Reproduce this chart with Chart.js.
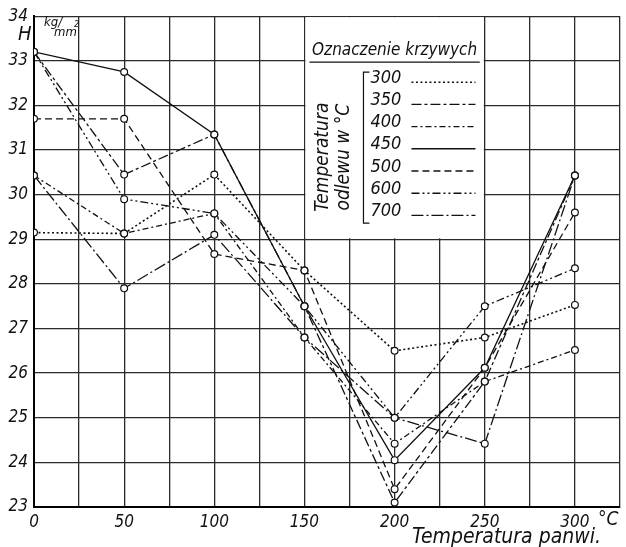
<!DOCTYPE html>
<html>
<head>
<meta charset="utf-8">
<script src="https://cdn.jsdelivr.net/npm/chart.js@4.4.0/dist/chart.umd.min.js"></script>
<style>
    html, body { margin: 0; padding: 0; background: #fff; }
</style>
</head>
<body>
<canvas id="hardnessChart" width="626" height="547"></canvas>
<script>
// Pan temperature (x axis, °C)
const panTemps = [0, 50, 100, 150, 200, 250, 300];
// Casting temperature for each curve (legend)
const castTemps = ['300', '350', '400', '450', '500', '600', '700'];

// Hardness H, kg/mm², one list per casting temperature
const h300 = [29.15, 29.13, 30.45, 28.3, 26.5, 26.8, 27.53];
const h350 = [33.2, 30.45, 31.35, 27.5, 23.1, 25.81, 30.43];
const h400 = [30.43, 29.13, 29.58, 26.8, 24.42, 25.81, 26.52];
const h450 = [33.2, 32.75, 31.35, 27.5, 24.05, 26.12, 30.43];
const h500 = [31.7, 31.7, 28.67, 28.3, 23.4, 26.12, 29.6];
const h600 = [33.2, 29.9, 29.58, 27.5, 25.0, 27.5, 28.35];
const h700 = [30.43, 27.9, 29.1, 26.8, 25.0, 24.42, 30.43];

const seriesValues = [h300, h350, h400, h450, h500, h600, h700];

// line pattern per curve, as in the printed legend
const dashes = [
    [2, 2.5],
    [10, 3, 3, 3],
    [6, 3, 2, 3],
    [],
    [7, 4],
    [8, 3, 2, 3, 2, 3],
    [12, 3, 2, 3]
];

const FONT = "'Liberation Sans Narrow', 'DejaVu Sans Condensed', sans-serif";
const INK = '#111';

// ---- legend box + free labels drawn on the canvas ----
const annotations = {
    id: 'annotations',
    beforeDatasetsDraw(chart) {
        const { ctx, scales: { x, y } } = chart;
        const l = x.getPixelForValue(150) + 1, r = x.getPixelForValue(250) - 1;
        const t = y.getPixelForValue(34) + 1, b = y.getPixelForValue(29) - 1;
        ctx.save();
        ctx.fillStyle = '#fff';
        ctx.fillRect(l, t, r - l, b - t);

        ctx.fillStyle = INK;
        ctx.strokeStyle = INK;
        ctx.font = `italic 17px ${FONT}`;
        ctx.textAlign = 'center';
        ctx.textBaseline = 'middle';
        ctx.fillText('Oznaczenie krzywych', (l + r) / 2, t + 33);
        ctx.lineWidth = 1.2;
        ctx.beginPath();
        ctx.moveTo(l + 4, t + 45);
        ctx.lineTo(r - 4, t + 45);
        ctx.stroke();

        // rotated side label
        ctx.save();
        ctx.translate(l + 18, t + 140);
        ctx.rotate(-Math.PI / 2);
        ctx.font = `italic 19px ${FONT}`;
        ctx.fillText('Temperatura', 0, 0);
        ctx.fillText('odlewu w °C', 0, 21);
        ctx.restore();

        // bracket
        ctx.lineWidth = 1.2;
        ctx.beginPath();
        ctx.moveTo(l + 64, t + 55);
        ctx.lineTo(l + 58, t + 55);
        ctx.lineTo(l + 58, t + 206);
        ctx.lineTo(l + 64, t + 206);
        ctx.stroke();

        ctx.font = `italic 18px ${FONT}`;
        ctx.textAlign = 'left';
        castTemps.forEach((label, i) => {
            const yy = t + 61 + i * 22.2;
            ctx.fillText(label, l + 65, yy);
            ctx.save();
            ctx.setLineDash(dashes[i]);
            ctx.lineWidth = i === 0 ? 1.6 : 1.4;
            ctx.beginPath();
            ctx.moveTo(l + 106, yy + 4);
            ctx.lineTo(l + 170, yy + 4);
            ctx.stroke();
            ctx.restore();
        });

        // axis captions
        ctx.font = `italic 20px ${FONT}`;
        ctx.textAlign = 'left';
        ctx.fillText('H', 18, 35);
        ctx.font = `italic 13px ${FONT}`;
        ctx.fillText('kg/', 44, 23);
        ctx.fillText('mm', 54, 33);
        ctx.font = `italic 9px ${FONT}`;
        ctx.fillText('2', 74, 25);

        ctx.font = `italic 19px ${FONT}`;
        ctx.fillText('°C', 598, 520);
        ctx.font = `italic 21px ${FONT}`;
        ctx.fillText('Temperatura panwi.', 412, 538);
        ctx.restore();
    }
};

function buildDatasets() {
    return seriesValues.map((vals, i) => ({
        label: castTemps[i],
        data: panTemps.map((t, j) => ({ x: t, y: vals[j] })),
        borderColor: INK,
        borderWidth: i === 0 ? 1.6 : 1.3,
        borderDash: dashes[i],
        pointRadius: 3.4,
        pointBackgroundColor: '#fff',
        pointBorderColor: INK,
        pointBorderWidth: 1.2,
        tension: 0,
        fill: false
    }));
}

new Chart(document.getElementById('hardnessChart'), {
    type: 'line',
    data: { datasets: buildDatasets() },
    plugins: [annotations],
    options: {
        responsive: false,
        animation: false,
        devicePixelRatio: 1,
        layout: { padding: { top: 14, right: 6, left: 0, bottom: 0 } },
        plugins: {
            legend: { display: false },
            tooltip: { enabled: false }
        },
        scales: {
            x: {
                type: 'linear',
                min: 0,
                max: 325,
                afterFit: s => { s.height = 40; },
                ticks: {
                    stepSize: 25,
                    autoSkip: false,
                    maxRotation: 0,
                    padding: 5,
                    color: INK,
                    font: { family: FONT, size: 17, style: 'italic' },
                    callback: v => (v % 50 === 0 && v <= 300) ? String(v) : ''
                },
                grid: { color: '#2a2a2a', lineWidth: 1.3, drawTicks: false },
                border: { color: '#000', width: 2 }
            },
            y: {
                min: 23,
                max: 34,
                afterFit: s => { s.width = 34; },
                ticks: {
                    stepSize: 1,
                    padding: 6,
                    color: INK,
                    font: { family: FONT, size: 17, style: 'italic' }
                },
                grid: { color: '#2a2a2a', lineWidth: 1.3, drawTicks: false },
                border: { color: '#000', width: 2 }
            }
        }
    }
});
</script>
</body>
</html>
